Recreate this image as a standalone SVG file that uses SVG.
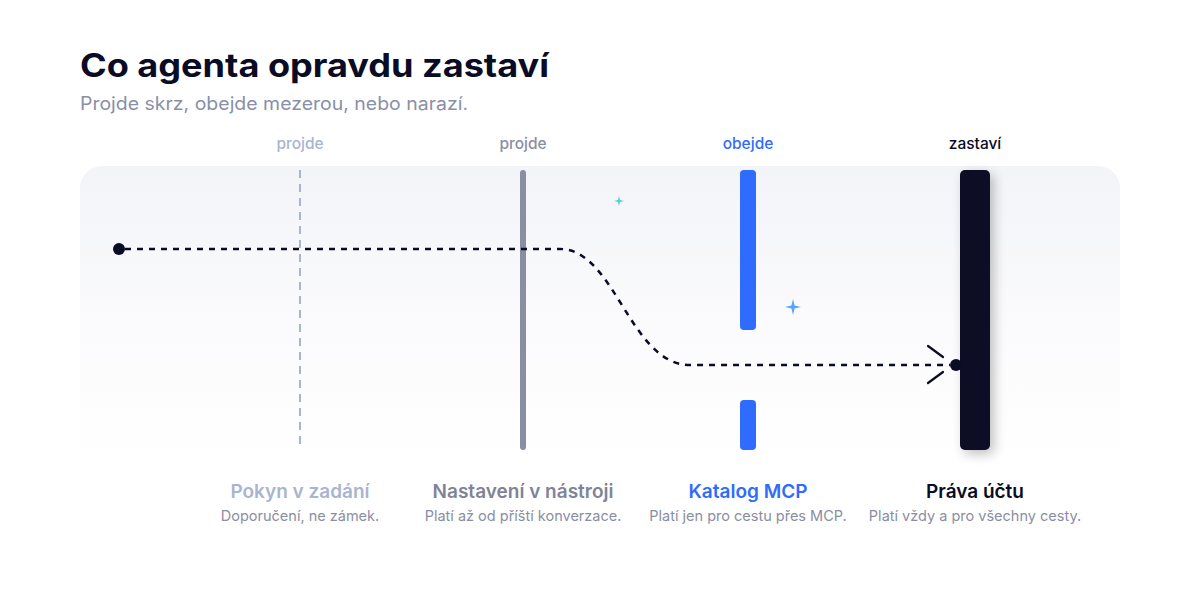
<svg xmlns="http://www.w3.org/2000/svg" width="1200" height="600" viewBox="0 0 1200 600">
<defs>
<linearGradient id="panelGrad" x1="0" y1="0" x2="0" y2="1">
<stop offset="0" stop-color="#f3f4f8"/>
<stop offset="0.55" stop-color="#fbfbfd"/>
<stop offset="1" stop-color="#ffffff"/>
</linearGradient>
<filter id="shadow" x="-100%" y="-20%" width="300%" height="140%">
<feGaussianBlur in="SourceAlpha" stdDeviation="6"/>
<feOffset dx="4" dy="4"/>
<feComponentTransfer><feFuncA type="linear" slope="0.25"/></feComponentTransfer>
<feMerge><feMergeNode/><feMergeNode in="SourceGraphic"/></feMerge>
</filter>
</defs>
<style>
text{font-family:Inter,"Open Sans","Liberation Sans",sans-serif}
.title{font-size:32px;font-weight:700;fill:#0a0b25}
.sub{font-size:18px;fill:#8a8fa8}
.col{font-size:15.5px;font-weight:500;text-anchor:middle}
.lt{font-size:19px;font-weight:600;text-anchor:middle}
.ls{font-size:14.5px;fill:#8a8ea3;text-anchor:middle}
.path{fill:none;stroke:#0a0b25;stroke-width:2.5;stroke-dasharray:6 6}
</style>
<rect width="1200" height="600" fill="#ffffff"/>
<text class="title" x="80" y="77" textLength="469" lengthAdjust="spacingAndGlyphs">Co agenta opravdu zastaví</text>
<text class="sub" x="80" y="110" textLength="388" lengthAdjust="spacingAndGlyphs">Projde skrz, obejde mezerou, nebo narazí.</text>
<rect id="panel" x="80" y="166" width="1040" height="300" rx="22" fill="url(#panelGrad)"/>

<g id="node-pokyn">
<text class="col" x="300" y="149" fill="#a9b4d0">projde</text>
<line x1="300" y1="170" x2="300" y2="450" stroke="#a9b4d0" stroke-width="2" stroke-dasharray="8 6"/>
<text class="lt" x="300" y="498" fill="#a9b4d0">Pokyn v zadání</text>
<text class="ls" x="300" y="521">Doporučení, ne zámek.</text>
</g>

<g id="node-nastaveni">
<text class="col" x="523" y="149" fill="#8a8ea3">projde</text>
<line x1="523" y1="173" x2="523" y2="447" stroke="#8a8ea3" stroke-width="6" stroke-linecap="round"/>
<text class="lt" x="523" y="498" fill="#7f8399">Nastavení v nástroji</text>
<text class="ls" x="523" y="521">Platí až od příští konverzace.</text>
</g>

<g id="node-katalog">
<text class="col" x="748" y="149" fill="#2f6bff">obejde</text>
<rect x="740" y="170" width="16" height="160" rx="4" fill="#2f6bff"/>
<rect x="740" y="400" width="16" height="50" rx="4" fill="#2f6bff"/>
<text class="lt" x="748" y="498" fill="#2f6bff">Katalog MCP</text>
<text class="ls" x="748" y="521">Platí jen pro cestu přes MCP.</text>
</g>

<g id="node-prava">
<text class="col" x="975" y="149" fill="#0a0b25">zastaví</text>
<rect x="960" y="170" width="30" height="280" rx="5" fill="#0a0b25" filter="url(#shadow)"/>
<text class="lt" x="975" y="498" fill="#0a0b25">Práva účtu</text>
<text class="ls" x="975" y="521">Platí vždy a pro všechny cesty.</text>
</g>

<g id="sparkles">
<path d="M619,196 L620,200 L624,201 L620,202 L619,206 L618,202 L614,201 L618,200 Z" fill="#4fd1c5"/>
<path d="M793,299 L794.6,305.4 L801,307 L794.6,308.6 L793,315 L791.4,308.6 L785,307 L791.4,305.4 Z" fill="#5aa4ff"/>
</g>

<g id="connectors">
<circle cx="119" cy="249" r="6" fill="#0a0b25"/>
<path class="path" d="M125,249 L560,249 C615,249 630,365 690,365 L950,365"/>
<circle cx="956" cy="365" r="6" fill="#0a0b25"/>
<line x1="928" y1="346" x2="943" y2="357" stroke="#0a0b25" stroke-width="2.2" stroke-linecap="round"/>
<line x1="928" y1="383" x2="943" y2="372" stroke="#0a0b25" stroke-width="2.2" stroke-linecap="round"/>
</g>
</svg>
